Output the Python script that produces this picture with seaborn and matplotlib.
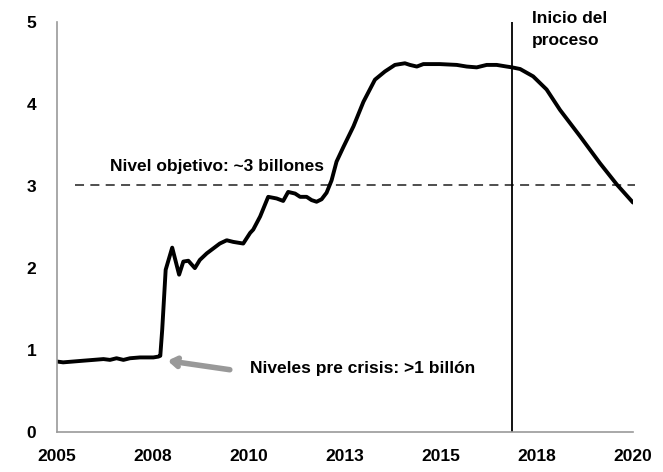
import matplotlib
matplotlib.use("Agg")
import matplotlib.pyplot as plt
import seaborn as sns
import pandas as pd

# ---- data ----
years = [2005.00, 2005.16, 2005.42, 2005.68, 2005.95, 2006.21, 2006.38, 2006.55,
         2006.73, 2006.90, 2007.16, 2007.34, 2007.51, 2007.64, 2007.69, 2007.74,
         2007.83, 2008.00, 2008.18, 2008.29, 2008.42, 2008.59, 2008.72, 2008.90,
         2009.07, 2009.24, 2009.42, 2009.59, 2009.85, 2010.03, 2010.11, 2010.29,
         2010.50, 2010.72, 2010.89, 2011.02, 2011.20, 2011.33, 2011.50, 2011.63,
         2011.76, 2011.89, 2012.02, 2012.15, 2012.28, 2012.46, 2012.72, 2012.98,
         2013.28, 2013.54, 2013.80, 2014.06, 2014.19, 2014.37, 2014.54, 2014.97,
         2015.41, 2015.67, 2015.93, 2016.19, 2016.45, 2016.71, 2016.85, 2017.06,
         2017.40, 2017.75, 2018.10, 2018.62, 2019.14, 2019.58, 2020.00]
values = [0.86, 0.85, 0.86, 0.87, 0.88, 0.89, 0.88, 0.90,
          0.88, 0.90, 0.91, 0.91, 0.91, 0.92, 0.93, 1.25,
          1.98, 2.25, 1.92, 2.08, 2.09, 2.00, 2.10, 2.18,
          2.24, 2.30, 2.34, 2.32, 2.30, 2.43, 2.47, 2.63,
          2.87, 2.85, 2.82, 2.93, 2.91, 2.87, 2.87, 2.83,
          2.81, 2.84, 2.92, 3.07, 3.30, 3.48, 3.73, 4.03,
          4.30, 4.40, 4.48, 4.50, 4.48, 4.46, 4.49, 4.49,
          4.48, 4.46, 4.45, 4.48, 4.48, 4.46, 4.45, 4.43,
          4.34, 4.18, 3.93, 3.61, 3.28, 3.02, 2.80]

target_level = 3.02
target_label = "Nivel objetivo: ~3 billones"
precrisis_label = "Niveles pre crisis: >1 billón"
start_year = 2016.86
start_label = ["Inicio del", "proceso"]

xtick_pos = [2005, 2007.5, 2010, 2012.5, 2015, 2017.5, 2020]
xtick_labels = ["2005", "2008", "2010", "2013", "2015", "2018", "2020"]
ytick_pos = [0, 1, 2, 3, 4, 5]
ytick_labels = ["0", "1", "2", "3", "4", "5"]

df = pd.DataFrame({"year": years, "value": values})

# ---- style ----
sns.set_style("white")
plt.rcParams["font.family"] = ["Liberation Sans", "DejaVu Sans"]
plt.rcParams["font.weight"] = "bold"

fig = plt.figure(figsize=(6.63, 4.72), dpi=100)
ax = fig.add_axes([57 / 663, 1 - 432 / 472, (633 - 57) / 663, (432 - 22.3) / 472])

sns.lineplot(data=df, x="year", y="value", ax=ax, color="black",
             linewidth=2.8, estimator=None, sort=False)

# target dashed line
ax.plot([2005.47, 2020.05], [target_level, target_level], color="#404040",
        linewidth=1.3, dashes=(5, 3.5), clip_on=False, zorder=1)

# start vertical line
ax.axvline(start_year, ymin=0, ymax=1, color="black", linewidth=1.3)

ax.set_xlim(2005, 2020)
ax.set_ylim(0, 5)
ax.set_xticks(xtick_pos)
ax.set_xticklabels(xtick_labels)
ax.set_yticks(ytick_pos)
ax.set_yticklabels(ytick_labels)
ax.set_xlabel("")
ax.set_ylabel("")

for s in ["top", "right"]:
    ax.spines[s].set_visible(False)
for s in ["left", "bottom"]:
    ax.spines[s].set_color("#9a9a9a")
    ax.spines[s].set_linewidth(1.2)

ax.tick_params(axis="both", which="major", direction="out", length=4,
               width=1.2, color="#9a9a9a", labelsize=12.5, labelcolor="black")
ax.tick_params(axis="y", pad=11)
ax.tick_params(axis="x", pad=8)
for lab in ax.get_xticklabels() + ax.get_yticklabels():
    lab.set_fontweight("bold")

# annotations
txt_size = 12.5
ax.text(2006.38, 3.18, target_label, fontsize=txt_size, fontweight="bold",
        ha="left", va="baseline", color="black")
ax.text(2010.03, 0.72, precrisis_label, fontsize=txt_size, fontweight="bold",
        ha="left", va="baseline", color="black")
ax.text(2017.37, 4.99, start_label[0], fontsize=txt_size, fontweight="bold",
        ha="left", va="baseline", color="black", clip_on=False)
ax.text(2017.37, 4.725, start_label[1], fontsize=txt_size, fontweight="bold",
        ha="left", va="baseline", color="black", clip_on=False)

ax.annotate("", xy=(2007.88, 0.87), xytext=(2009.5, 0.76),
            arrowprops=dict(arrowstyle="->,head_length=0.45,head_width=0.3",
                            color="#999999", lw=4, shrinkA=0, shrinkB=0))

fig.savefig("out.png", dpi=100)
